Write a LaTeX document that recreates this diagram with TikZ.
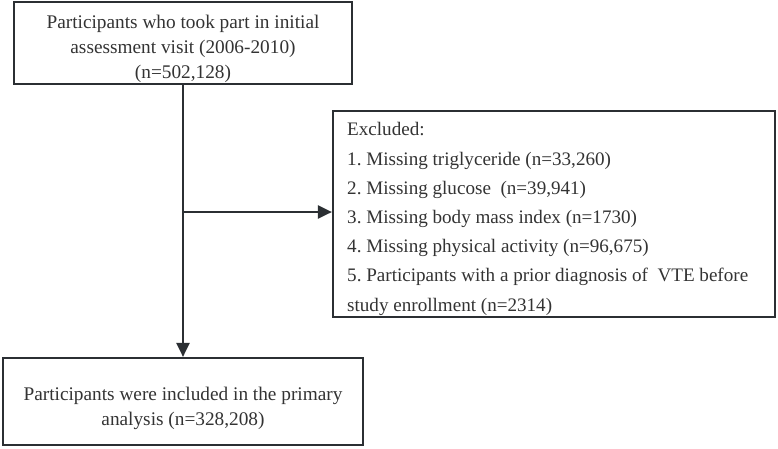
\documentclass[tikz,border=0pt]{standalone}
\usepackage{fontspec}
\setmainfont{Liberation Serif}
\usetikzlibrary{arrows.meta}
\definecolor{linecol}{HTML}{2B2F33}
\definecolor{txtcol}{HTML}{333333}
\begin{document}
\frenchspacing
\begin{tikzpicture}[x=1pt,y=-1pt,
  box/.style={draw=linecol, line width=2.2pt, rectangle, inner sep=0pt},
  txt/.style={text=txtcol, inner sep=0pt},
  conn/.style={draw=linecol, line width=2.2pt, -{Triangle[length=14pt,width=13pt]}}]
\useasboundingbox (0,0) rectangle (778,448);
\node[box, minimum width=338pt, minimum height=82pt] (top) at (183,43) {};
\node[txt, align=center, font=\fontsize{19.3}{25}\selectfont] (toptxt) at (183,49)
  {Participants who took part in initial\\assessment visit (2006-2010)\\(n=502,128)};
\node[box, minimum width=360pt, minimum height=87pt] (bot) at (183,401.5) {};
\node[txt, align=center, font=\fontsize{19.3}{25}\selectfont] (bottxt) at (183,408)
  {Participants were included in the primary\\analysis (n=328,208)};
\node[box, minimum width=442pt, minimum height=206pt] (exc) at (554,214) {};
\node[txt, align=left, anchor=west, font=\fontsize{19.1}{29.2}\selectfont] (exctxt) at (347,219)
  {Excluded:\\
   1. Missing triglyceride (n=33,260)\\
   2. Missing glucose \ (n=39,941)\\
   3. Missing body mass index (n=1730)\\
   4. Missing physical activity (n=96,675)\\
   5. Participants with a prior diagnosis of \ VTE before\\
   study enrollment (n=2314)};
\draw[conn] (top.south) -- (bot.north);
\coordinate (j) at (183,212);
\draw[conn] (j) -- (j -| exc.west);
\end{tikzpicture}
\end{document}
